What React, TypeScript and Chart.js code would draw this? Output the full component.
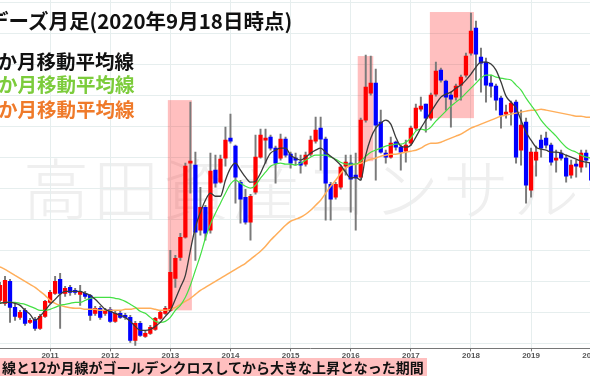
import React, { useEffect, useRef } from "react";
import { Chart, registerables } from "chart.js";

Chart.register(...registerables);

// ---- categories: monthly candles from 2010-03 to 2020-01 ----
const START_YEAR = 2010;
const START_MONTH = 3;
const MONTH_COUNT = 119;
const months: string[] = Array.from({ length: MONTH_COUNT }, (_, i) => {
  const m = START_MONTH - 1 + i;
  return `${START_YEAR + Math.floor(m / 12)}-${String((m % 12) + 1).padStart(2, "0")}`;
});

const yearLabels = ["2011", "2012", "2013", "2014", "2015", "2016", "2017", "2018", "2019", "2020"];

// ---- OHLC (arbitrary price units) ----
const openV = [
  480, 450, 670, 410, 310, 380, 260, 290, 200, 320,
  460, 550, 690, 550, 610, 580, 540, 550, 530, 350,
  400, 350, 390, 270, 350, 330, 310, 80, 250, 120,
  150, 190, 300, 350, 380, 700, 910, 1110, 1850, 1830,
  1180, 1410, 1180, 1780, 1660, 1900, 2100, 2020, 1660, 1510,
  1260, 1560, 1910, 2080, 2110, 2000, 1900, 2090, 1940, 1900,
  1860, 1840, 1940, 2070, 2200, 2090, 1640, 1510, 1610, 1820,
  1850, 1730, 1710, 2280, 2550, 2650, 2260, 1950, 1910, 2060,
  2010, 1970, 2050, 2200, 2390, 2440, 2300, 2540, 2780, 2670,
  2530, 2510, 2630, 2730, 2950, 3200, 2910, 2860, 2650, 2620,
  2500, 2340, 2360, 2460, 1980, 2260, 1580, 1880, 2080, 2100,
  2030, 1880, 1950, 1900, 1730, 1840, 1810, 1950, 1850,
];
const closeV = [
  630, 680, 410, 320, 360, 250, 280, 200, 320, 470,
  560, 670, 550, 600, 560, 560, 560, 520, 330, 400,
  310, 380, 270, 350, 310, 310, 80, 250, 130, 150,
  210, 300, 360, 400, 760, 900, 1110, 1820, 1870, 1160,
  1410, 1150, 1770, 1650, 1890, 2080, 2070, 1710, 1490, 1260,
  1520, 1910, 2130, 2100, 2000, 1850, 2090, 1930, 1850, 1880,
  1830, 1930, 2080, 2180, 2090, 1650, 1490, 1640, 1810, 1860,
  1690, 1700, 2280, 2610, 2650, 2230, 1960, 1910, 2050, 2010,
  1960, 2030, 2200, 2400, 2420, 2300, 2530, 2770, 2680, 2510,
  2490, 2620, 2710, 2920, 3170, 2940, 2850, 2630, 2620, 2480,
  2330, 2360, 2450, 1910, 2230, 1630, 1960, 1960, 2000, 2030,
  1860, 1900, 1900, 1720, 1830, 1820, 1950, 1880, 1680,
];
const highV = [
  660, 720, 690, 460, 380, 400, 300, 310, 340, 480,
  580, 720, 750, 620, 630, 600, 630, 570, 540, 420,
  420, 400, 410, 370, 370, 350, 330, 270, 270, 170,
  230, 310, 370, 420, 980, 930, 1150, 1850, 2460, 1960,
  1610, 1430, 1950, 1930, 1930, 2210, 2340, 2030, 1680, 1590,
  1540, 2130, 2190, 2190, 2130, 2020, 2140, 2110, 1960, 1950,
  1930, 1960, 2120, 2310, 2310, 2110, 1660, 1660, 1830, 1930,
  1930, 1950, 2300, 2930, 2920, 2790, 2380, 1980, 2110, 2070,
  2030, 2080, 2220, 2440, 2510, 2440, 2550, 2860, 2800, 2680,
  2560, 2640, 2730, 2950, 3350, 3270, 3000, 2900, 2730, 2640,
  2520, 2430, 2470, 2480, 2380, 2300, 2000, 2020, 2130, 2160,
  2050, 1980, 1980, 1930, 1880, 1880, 1980, 1980, 1930,
];
const lowV = [
  460, 430, 260, 280, 290, 230, 250, 180, 190, 310,
  450, 540, 200, 520, 530, 540, 430, 500, 280, 330,
  290, 330, 260, 260, 300, 290, 60, 30, 120, 110,
  140, 180, 290, 340, 370, 610, 880, 1100, 1550, 880,
  1130, 1080, 1150, 1610, 1650, 1820, 2050, 1450, 1250, 1240,
  1080, 1540, 1900, 1850, 1980, 1650, 1880, 1910, 1800, 1830,
  1750, 1820, 1920, 2050, 1780, 1280, 1280, 1490, 1590, 1730,
  1360, 1180, 1680, 2260, 2530, 1680, 1950, 1850, 1900, 1980,
  1780, 1860, 2030, 2180, 2370, 2160, 2280, 2520, 2660, 2380,
  2210, 2480, 2480, 2710, 2930, 2680, 2560, 2460, 2510, 2380,
  2200, 2300, 2230, 1850, 1830, 1450, 1510, 1720, 1910, 2000,
  1830, 1760, 1880, 1660, 1700, 1710, 1760, 1810, 1650,
];

// ---- moving averages ----
const ma3 = [
  450, 460, 460, 450, 430, 380, 340, 280, 320, 380,
  440, 490, 540, 570, 570, 570, 570, 550, 530, 490,
  440, 390, 370, 350, 330, 310, 270, 220, 180, 180,
  190, 220, 260, 320, 380, 490, 610, 730, 980, 1210,
  1360, 1480, 1550, 1520, 1520, 1680, 1800, 1850, 1780, 1710,
  1660, 1670, 1750, 1860, 1950, 1980, 2000, 2000, 1930, 1900,
  1880, 1910, 1950, 1980, 2000, 1960, 1920, 1880, 1830, 1760,
  1700, 1710, 1680, 1930, 2100, 2200, 2250, 2280, 2240, 2110,
  2020, 2010, 2030, 2110, 2200, 2280, 2360, 2440, 2510, 2540,
  2560, 2600, 2630, 2680, 2740, 2810, 2860, 2860, 2840, 2780,
  2660, 2520, 2460, 2400, 2280, 2160, 2080, 2010, 1990, 1980,
  1960, 1960, 1950, 1930, 1910, 1890, 1870, 1860, 1850,
];
const ma12 = [
  450, 460, 460, 460, 450, 440, 420, 400, 380, 380,
  390, 410, 430, 440, 450, 460, 460, 480, 500, 510,
  510, 510, 510, 500, 490, 470, 440, 410, 370, 350,
  310, 270, 260, 270, 310, 380, 430, 510, 630, 780,
  930, 1100, 1240, 1350, 1450, 1550, 1640, 1680, 1650, 1620,
  1600, 1630, 1700, 1760, 1820, 1840, 1850, 1840, 1840, 1830,
  1850, 1880, 1910, 1930, 1930, 1930, 1910, 1890, 1860, 1840,
  1840, 1840, 1870, 1920, 1960, 1980, 2000, 2020, 2030, 2040,
  2040, 2060, 2100, 2170, 2190, 2180, 2210, 2270, 2320, 2370,
  2420, 2460, 2500, 2550, 2600, 2650, 2700, 2730, 2730, 2710,
  2700, 2690, 2680, 2630, 2580, 2500, 2430, 2360, 2280, 2220,
  2170, 2120, 2060, 2010, 1980, 1960, 1930, 1910, 1900,
];
const ma24 = [
  815, 790, 760, 730, 700, 670, 640, 610, 570, 530,
  480, 450, 430, 415, 405, 400, 400, 390, 390, 390,
  380, 380, 380, 380, 380, 390, 390, 400, 400, 400,
  400, 390, 380, 380, 390, 410, 440, 470, 500, 540,
  580, 610, 640, 670, 700, 730, 760, 790, 820, 850,
  890, 930, 970, 1020, 1080, 1130, 1180, 1230, 1270, 1290,
  1310, 1340, 1380, 1430, 1480, 1550, 1620, 1680, 1750, 1800,
  1830, 1840, 1850, 1870, 1890, 1900, 1920, 1930, 1940, 1940,
  1950, 1960, 1970, 1980, 2000, 2030, 2050, 2050, 2060, 2080,
  2100, 2120, 2140, 2170, 2200, 2220, 2240, 2260, 2280, 2300,
  2320, 2330, 2340, 2350, 2360, 2370, 2380, 2380, 2390, 2380,
  2370, 2360, 2350, 2340, 2330, 2320, 2320, 2310, 2310,
];

// ---- highlighted periods (month positions and price bounds) ----
const boxFrom = [33.5, 71.4, 85.8];
const boxTo = [38.3, 74.5, 94.6];
const boxHigh = [2480, 2920, 3360];
const boxLow = [380, 1870, 2300];

// horizontal grid values
const gridValues = [50, 360, 670, 980, 1290, 1600, 1910, 2220, 2530, 2840, 3150, 3460];

const boxPlugin = {
  id: "periodBoxes",
  beforeDatasetsDraw(chart: any) {
    const { ctx, scales } = chart;
    const x = scales.x;
    const y = scales.y;
    ctx.save();
    ctx.fillStyle = "rgba(255,0,0,0.25)";
    for (let i = 0; i < boxFrom.length; i++) {
      const x0 = x.getPixelForValue(boxFrom[i]);
      const x1 = x.getPixelForValue(boxTo[i]);
      const y0 = y.getPixelForValue(boxHigh[i]);
      const y1 = y.getPixelForValue(boxLow[i]);
      ctx.fillRect(x0, y0, x1 - x0, y1 - y0);
    }
    ctx.restore();
  },
};

export default function App() {
  const ref = useRef<HTMLCanvasElement>(null);

  useEffect(() => {
    const up = months.map((_, i) => closeV[i] >= openV[i]);
    const janTicks = yearLabels.map((y) => months.indexOf(`${y}-01`));
    const chart = new Chart(ref.current as HTMLCanvasElement, {
      type: "bar",
      data: {
        datasets: [
          {
            type: "line",
            data: months.map((_, i) => ({ x: i, y: ma3[i] })),
            borderColor: "#3a3a3a",
            borderWidth: 1.3,
            pointRadius: 0,
            cubicInterpolationMode: "monotone",
            order: 0,
          } as any,
          {
            type: "line",
            data: months.map((_, i) => ({ x: i, y: ma12[i] })),
            borderColor: "#44e044",
            borderWidth: 1.2,
            pointRadius: 0,
            cubicInterpolationMode: "monotone",
            order: 0,
          } as any,
          {
            type: "line",
            data: months.map((_, i) => ({ x: i, y: ma24[i] })),
            borderColor: "#ffae5a",
            borderWidth: 1.5,
            pointRadius: 0,
            cubicInterpolationMode: "monotone",
            order: 0,
          } as any,
          {
            type: "bar",
            data: months.map((_, i) => ({ x: i, y: [openV[i], closeV[i]] })),
            backgroundColor: up.map((u) => (u ? "#ff0000" : "#0000ff")),
            barThickness: 3.6,
            minBarLength: 1.5,
            grouped: false,
            order: 1,
          } as any,
          {
            type: "bar",
            data: months.map((_, i) => ({ x: i, y: [lowV[i], highV[i]] })),
            backgroundColor: "#7a7a7a",
            barThickness: 1.3,
            grouped: false,
            order: 2,
          } as any,
        ],
      },
      options: {
        responsive: false,
        animation: false,
        layout: { padding: { left: 0, right: 0, top: 0, bottom: 19 } },
        plugins: { legend: { display: false }, tooltip: { enabled: false }, title: { display: false } },
        scales: {
          x: {
            type: "linear",
            min: 0,
            max: 123.75,
            offset: false,
            grid: { offset: false, color: "#e6eeee", drawTicks: true, tickLength: 3, tickColor: "#777" },
            border: { color: "#777", width: 1 },
            afterBuildTicks: (axis: any) => {
              axis.ticks = janTicks.map((v) => ({ value: v }));
            },
            ticks: {
              autoSkip: false,
              maxRotation: 0,
              padding: 0,
              color: "#555",
              font: { size: 8, weight: "bold", family: "'Liberation Sans', Arial, sans-serif" },
              callback: (v: any) => yearLabels[janTicks.indexOf(Number(v))] ?? "",
            },
          },
          y: {
            type: "linear",
            position: "right",
            min: 0,
            max: 3480,
            grid: { color: "#e6eeee", drawTicks: false },
            border: { display: false },
            ticks: { display: false },
            afterBuildTicks: (axis: any) => {
              axis.ticks = gridValues.map((v) => ({ value: v }));
            },
          },
        },
      } as any,
      plugins: [boxPlugin],
    });
    return () => chart.destroy();
  }, []);

  const font = "'Noto Sans CJK JP', 'Noto Sans', sans-serif";
  const abs = (extra: React.CSSProperties): React.CSSProperties => ({
    position: "absolute",
    whiteSpace: "nowrap",
    lineHeight: 1,
    ...extra,
  });

  return (
    <div
      style={{
        position: "fixed",
        left: 0,
        top: 0,
        width: 590,
        height: 380,
        overflow: "hidden",
        background: "#ffffff",
        fontFamily: font,
      }}
    >
      <div style={abs({ left: 23, top: 152, fontSize: 66, letterSpacing: 4, color: "#efefef", fontWeight: 300 })}>
        高田資産コンサルティング
      </div>
      <div style={{ position: "absolute", left: 0, top: 0, width: 620, height: 380 }}>
        <canvas ref={ref} width={620} height={380} style={{ display: "block" }} />
      </div>
      <div style={abs({ left: -12, top: 10, fontSize: 20.5, color: "#111", fontWeight: 700 })}>
        デーズ月足(2020年9月18日時点)
      </div>
      <div style={abs({ left: -14, top: 51, fontSize: 19.5, color: "#111", fontWeight: 700 })}>3か月移動平均線</div>
      <div style={abs({ left: -25, top: 74, fontSize: 19.5, color: "#7ccc3c", fontWeight: 700 })}>12か月移動平均線</div>
      <div style={abs({ left: -25, top: 99, fontSize: 19.5, color: "#ef7a2a", fontWeight: 700 })}>24か月移動平均線</div>
      <div
        style={abs({
          left: 0,
          top: 358,
          height: 18,
          lineHeight: "18px",
          fontSize: 14,
          fontWeight: 700,
          color: "#111",
          background: "#ffbfbf",
          padding: "0 3px 0 2px",
        })}
      >
        線と12か月線がゴールデンクロスしてから大きな上昇となった期間
      </div>
    </div>
  );
}
